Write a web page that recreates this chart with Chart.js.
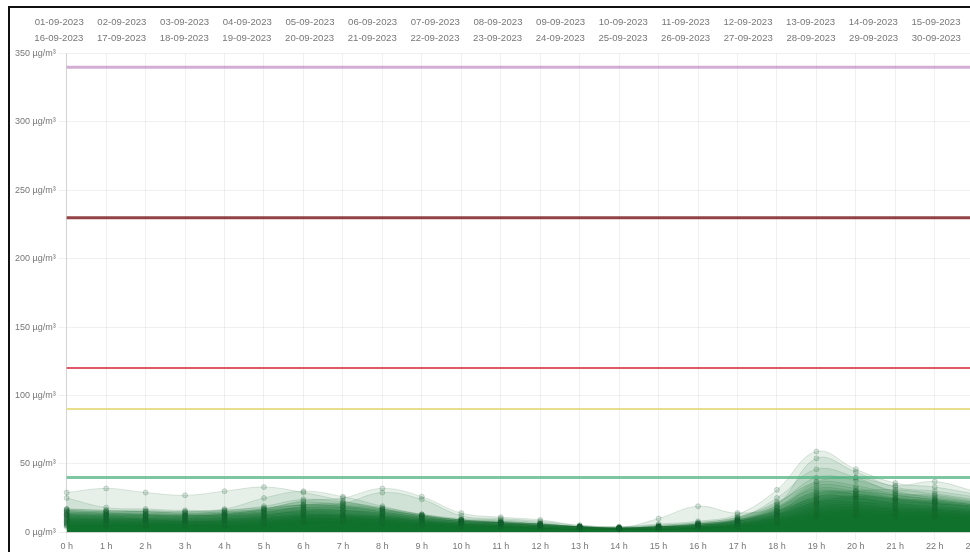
<!DOCTYPE html>
<html>
<head>
<meta charset="utf-8">
<script src="https://cdn.jsdelivr.net/npm/chart.js@4.4.1/dist/chart.umd.min.js"></script>
<style>
  html, body { margin: 0; padding: 0; background: #fff; overflow: hidden; }
  #frame {
    position: absolute; left: 8px; top: 6px;
    width: 975px; height: 560px;
    border-left: 2px solid #111; border-top: 2px solid #111;
    background: #fff;
  }
  #wrap { position: absolute; left: 0; top: 0; width: 974px; height: 545px; }
</style>
</head>
<body>
<div id="frame"><div id="wrap"><canvas id="c"></canvas></div></div>
<script>
// Hour labels on the x axis
const hours = ['0 h','1 h','2 h','3 h','4 h','5 h','6 h','7 h','8 h','9 h','10 h','11 h',
               '12 h','13 h','14 h','15 h','16 h','17 h','18 h','19 h','20 h','21 h','22 h','23 h'];

// One entry per day of September 2023
const days = ['01-09-2023','02-09-2023','03-09-2023','04-09-2023','05-09-2023','06-09-2023',
              '07-09-2023','08-09-2023','09-09-2023','10-09-2023','11-09-2023','12-09-2023',
              '13-09-2023','14-09-2023','15-09-2023','16-09-2023','17-09-2023','18-09-2023',
              '19-09-2023','20-09-2023','21-09-2023','22-09-2023','23-09-2023','24-09-2023',
              '25-09-2023','26-09-2023','27-09-2023','28-09-2023','29-09-2023','30-09-2023'];

// Hourly concentrations (µg/m³), one row per day
const d01 = [29,32,29,27,30,33,29,23,17,12,9,7,6,4,3,4,5,8,13,22,26,24,21,19];
const d02 = [25,18,17,16,17,25,30,26,19,13,9,7,5,4,3,4,6,9,15,26,30,31,28,24];
const d03 = [15,14,13,12,13,17,23,25,32,26,14,11,9,5,4,5,7,11,22,37,40,34,37,30];
const d04 = [12,11,10,10,11,14,19,21,29,24,12,10,8,5,4,6,8,13,31,59,46,36,33,28];
const d05 = [16,15,15,14,15,17,20,21,17,13,10,9,7,4,3,10,19,14,20,54,44,33,30,26];
const d06 = [10,9,9,8,9,12,16,16,14,10,7,6,5,4,3,4,6,10,25,46,40,29,27,23];
const d07 = [17,16,16,15,16,18,20,19,16,12,9,8,6,4,3,5,7,11,21,40,38,30,25,22];
const d08 = [14,13,13,12,13,15,17,16,14,11,8,7,6,4,3,4,6,9,17,34,32,27,24,20];
const d09 = [13,12,12,11,12,13,15,15,13,10,8,7,5,4,3,4,5,8,15,30,28,24,22,19];
const d10 = [11,10,10,9,10,11,13,13,12,9,7,6,5,3,3,3,5,7,13,26,25,21,19,16];
const d11 = [9,9,8,8,8,10,12,12,11,8,6,5,4,3,2,3,4,6,12,22,22,19,17,15];
const d12 = [8,8,7,7,8,9,11,11,10,8,6,5,4,3,2,3,4,6,11,19,20,17,16,14];
const d13 = [7,7,7,6,7,8,10,10,9,7,5,4,3,3,2,3,3,5,10,17,18,16,15,13];
const d14 = [6,6,6,6,6,7,9,9,8,6,5,4,3,2,2,2,3,5,9,15,16,15,14,12];
const d15 = [5,5,5,5,5,6,8,8,7,5,4,4,3,2,2,2,3,4,8,13,14,13,12,11];
const d16 = [15,14,14,13,14,16,18,18,15,11,8,7,6,4,3,4,6,9,18,36,34,28,26,22];
const d17 = [13,13,12,12,13,14,16,16,13,10,8,6,5,4,3,4,5,8,16,28,30,25,23,20];
const d18 = [12,12,11,11,12,13,15,14,12,9,7,6,5,3,3,3,5,8,14,24,26,23,21,18];
const d19 = [11,11,10,10,11,12,14,13,11,9,7,6,4,3,3,3,4,7,13,21,24,21,19,17];
const d20 = [10,10,9,9,10,11,13,12,11,8,6,5,4,3,2,3,4,7,12,20,22,20,18,16];
const d21 = [9,9,9,8,9,10,12,12,10,8,6,5,4,3,2,3,4,6,11,18,20,18,17,15];
const d22 = [8,8,8,8,8,9,11,11,9,7,6,5,4,3,2,2,4,6,10,16,18,17,16,14];
const d23 = [7,7,7,7,7,8,10,10,9,7,5,4,3,3,2,2,3,5,9,14,16,15,14,13];
const d24 = [6,6,6,6,6,7,9,9,8,6,5,4,3,2,2,2,3,5,8,13,15,14,13,12];
const d25 = [5,5,5,5,5,6,8,8,7,6,4,4,3,2,2,2,3,4,7,12,13,13,12,11];
const d26 = [4,4,4,4,4,5,7,7,6,5,4,3,3,2,2,2,3,4,6,10,12,11,11,10];
const d27 = [17,16,15,15,16,19,24,22,18,13,9,8,6,4,3,4,6,10,19,32,30,27,24,21];
const d28 = [16,15,15,14,15,17,22,20,17,12,9,7,6,4,3,4,5,9,18,29,28,25,23,20];
const d29 = [14,14,13,13,14,16,20,19,16,12,8,7,5,4,3,4,5,8,16,25,27,24,22,19];
const d30 = [13,12,12,12,13,15,18,18,15,11,8,7,5,4,3,3,5,8,15,23,25,22,21,18];
const dayValues = [d01,d02,d03,d04,d05,d06,d07,d08,d09,d10,d11,d12,d13,d14,d15,
                   d16,d17,d18,d19,d20,d21,d22,d23,d24,d25,d26,d27,d28,d29,d30];

// Reference thresholds (µg/m³) and their line colours
const thresholdLevels = [40, 90, 120, 230, 340];
const thresholdColors = ['rgba(80,180,130,0.75)', 'rgba(225,215,110,0.8)', 'rgba(215,60,75,0.85)',
                         'rgba(120,20,25,0.8)', 'rgba(180,120,185,0.6)'];
const thresholdWidths = [3, 2, 2, 3, 3];

// Y axis ticks
const yMin = 0, yMax = 350, yStep = 50;

const thresholdSets = thresholdLevels.map((lvl, i) => ({
  label: 'threshold-' + lvl,
  data: hours.map(() => lvl),
  borderColor: thresholdColors[i],
  borderWidth: thresholdWidths[i],
  pointRadius: 0,
  fill: false,
  tension: 0,
  isThreshold: true
}));

const daySets = days.map((d, i) => ({
  label: d,
  data: dayValues[i],
  backgroundColor: 'rgba(5,105,40,0.1)',
  borderColor: 'rgba(20,90,45,0.14)',
  borderWidth: 1,
  fill: 'origin',
  tension: 0.4,
  pointRadius: 2.5,
  pointBackgroundColor: 'rgba(20,90,45,0.15)',
  pointBorderColor: 'rgba(20,90,45,0.2)',
  pointBorderWidth: 1
}));

const tickFont = { family: 'Liberation Sans, Arial, sans-serif', size: 9 };

// Nudges the legend block a few pixels to the left of the canvas centre
const legendShift = {
  id: 'legendShift',
  afterLayout(chart) {
    if (chart.legend) { chart.legend.left -= 4; chart.legend.right -= 4; }
  }
};

new Chart(document.getElementById('c'), {
  type: 'line',
  data: { labels: hours, datasets: [...thresholdSets, ...daySets] },
  plugins: [legendShift],
  options: {
    responsive: true,
    maintainAspectRatio: false,
    animation: false,
    layout: { padding: { left: 2, right: 0, top: 3.5, bottom: 0 } },
    plugins: {
      legend: {
        display: true,
        position: 'top',
        labels: {
          boxWidth: 2.4,
          boxHeight: 0,
          padding: 6.4,
          color: '#777',
          font: { family: 'Liberation Sans, Arial, sans-serif', size: 9.6 },
          // date labels only, without coloured swatches
          generateLabels: chart => Chart.defaults.plugins.legend.labels.generateLabels(chart)
            .map(l => Object.assign(l, { fillStyle: 'rgba(0,0,0,0)', strokeStyle: 'rgba(0,0,0,0)', lineWidth: 0 })),
          filter: (item, data) => !data.datasets[item.datasetIndex].isThreshold
        }
      },
      tooltip: { enabled: false }
    },
    scales: {
      x: {
        grid: { color: 'rgba(0,0,0,0.06)' },
        border: { color: 'rgba(0,0,0,0.12)' },
        ticks: { color: '#777', font: tickFont, maxRotation: 0, padding: 1 }
      },
      y: {
        min: yMin, max: yMax,
        grid: { color: 'rgba(0,0,0,0.06)' },
        border: { color: 'rgba(0,0,0,0.12)' },
        ticks: {
          stepSize: yStep,
          color: '#777',
          font: tickFont,
          callback: v => v + ' µg/m³'
        }
      }
    }
  }
});
</script>
</body>
</html>
